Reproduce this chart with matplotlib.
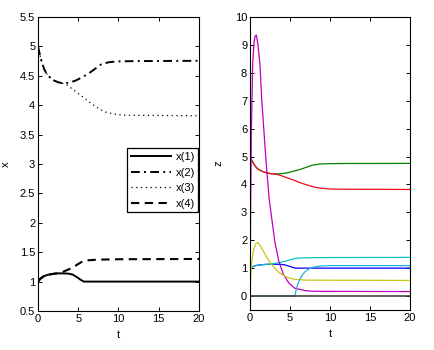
import matplotlib
matplotlib.use("Agg")
import matplotlib.pyplot as plt
from matplotlib.lines import Line2D
from matplotlib.ticker import FormatStrFormatter

plt.rcParams['font.family'] = ['Liberation Sans', 'DejaVu Sans']

# ---- data ----
t_x1 = [0, 0.3, 0.7, 1.2, 1.8, 2.5, 3.2, 3.8, 4.3, 4.9, 5.3, 5.7, 8, 20]
x1 = [1.0, 1.05, 1.09, 1.115, 1.13, 1.14, 1.14, 1.135, 1.12, 1.07, 1.03, 1.0, 1.0, 1.0]

t_x2 = [0, 0.25, 0.5, 0.75, 1.0, 1.5, 2.0, 2.5, 3.0, 3.5, 4.0, 4.5, 5.0, 5.5, 6.2, 6.7,
        7.2, 7.8, 8.75, 9.9, 12, 20]
x2 = [5.0, 4.85, 4.72, 4.62, 4.55, 4.47, 4.42, 4.39, 4.375, 4.375, 4.39, 4.41, 4.44, 4.48,
      4.53, 4.58, 4.63, 4.69, 4.73, 4.745, 4.75, 4.755]

t_x3 = [0, 0.25, 0.5, 0.75, 1.0, 1.5, 2.0, 2.5, 3.0, 3.4, 3.75, 4.5, 5.0, 5.5, 6.2, 6.7,
        7.5, 8.25, 8.75, 9.9, 10.8, 20]
x3 = [5.0, 4.85, 4.72, 4.62, 4.55, 4.47, 4.42, 4.39, 4.375, 4.36, 4.33, 4.25, 4.2, 4.15,
      4.07, 4.02, 3.95, 3.89, 3.87, 3.84, 3.83, 3.82]

t_x4 = [0, 0.3, 0.7, 1.2, 1.8, 2.5, 3.0, 3.5, 4.0, 4.5, 5.0, 5.5, 6.0, 7.0, 8.0, 10, 20]
x4 = [1.0, 1.05, 1.09, 1.115, 1.13, 1.145, 1.16, 1.19, 1.22, 1.255, 1.30, 1.34, 1.36,
      1.37, 1.375, 1.38, 1.385]

t_z5 = [0, 0.08, 0.17, 0.33, 0.5, 0.65, 0.8, 1.0, 1.25, 1.46, 1.75, 2.0, 2.4, 3.1, 3.6, 4.2,
        4.9, 5.6, 7.0, 8.0, 20]
z5 = [0, 3.2, 5.9, 8.3, 9.1, 9.32, 9.35, 9.0, 8.28, 7.08, 5.87, 4.85, 3.47, 1.96, 1.25, 0.76,
      0.45, 0.28, 0.19, 0.17, 0.16]

t_z6 = [0, 0.1, 0.2, 0.4, 0.7, 0.96, 1.3, 1.9, 2.5, 3.1, 3.7, 4.4, 5.0, 5.6, 7.0, 20]
z6 = [0, 0.7, 1.15, 1.6, 1.87, 1.92, 1.8, 1.48, 1.2, 1.0, 0.83, 0.70, 0.64, 0.60, 0.57, 0.56]

t_z7 = [0, 20]
z7 = [0, 0]

t_z8 = [0, 5.6, 5.8, 6.0, 6.25, 6.5, 6.9, 7.5, 8.1, 9.0, 10, 20]
z8 = [0, 0, 0.25, 0.45, 0.6, 0.74, 0.88, 0.99, 1.05, 1.08, 1.09, 1.09]

legend_labels = ['x(1)', 'x(2)', 'x(3)', 'x(4)']
x_ticks = [0, 5, 10, 15, 20]
left_yticks = [0.5, 1, 1.5, 2, 2.5, 3, 3.5, 4, 4.5, 5, 5.5]
right_yticks = [0, 1, 2, 3, 4, 5, 6, 7, 8, 9, 10]

# ---- figure ----
fig = plt.figure(figsize=(4.35, 3.5), dpi=100)
W, H = 435, 350
axL = fig.add_axes([38 / W, (H - 311) / H, (199 - 38) / W, (311 - 17) / H])
axR = fig.add_axes([250 / W, (H - 310) / H, (410 - 250) / W, (310 - 17) / H])

fs = 8
for ax in (axL, axR):
    ax.tick_params(direction='in', length=3, width=0.7, top=True, right=True,
                   labelsize=fs, pad=2, colors='black')
    for s in ax.spines.values():
        s.set_linewidth(0.8)
    ax.set_xlim(0, 20)
    ax.set_xticks(x_ticks)
    ax.set_xlabel('t', fontsize=fs)
    ax.xaxis.set_label_coords(0.5, -0.065)

# left panel
style_solid = dict(color='black', lw=1.4, linestyle='-')
style_dashdot = dict(color='black', lw=1.4, linestyle=(0, (4.5, 2.2, 1.0, 2.2)))
style_dot = dict(color='black', lw=0.9, linestyle=(0, (1, 2.8)))
style_dash = dict(color='black', lw=1.5, linestyle=(0, (4, 2.6)))

axL.plot(t_x1, x1, **style_solid)
axL.plot(t_x2, x2, **style_dashdot)
axL.plot(t_x3, x3, **style_dot)
axL.plot(t_x4, x4, **style_dash)
axL.set_ylim(0.5, 5.5)
axL.set_yticks(left_yticks)
axL.yaxis.set_major_formatter(FormatStrFormatter('%g'))
axL.set_ylabel('x', fontsize=fs)
axL.yaxis.set_label_coords(-0.17, 0.5)

handles = [Line2D([], [], **style_solid), Line2D([], [], **style_dashdot),
           Line2D([], [], **style_dot), Line2D([], [], **style_dash)]
leg = axL.legend(handles, legend_labels, loc='upper right', bbox_to_anchor=(0.996, 0.553),
                 fontsize=fs, frameon=True, fancybox=False, framealpha=1,
                 edgecolor='black', handlelength=3.6, handletextpad=0.4,
                 borderpad=0.32, labelspacing=0.5, borderaxespad=0)
leg.get_frame().set_linewidth(0.9)

# right panel
lw = 0.9
axR.plot(t_x1, x1, color=(0, 0, 1), lw=lw)
axR.plot(t_x2, x2, color=(0, 0.5, 0), lw=lw)
axR.plot(t_x3, x3, color=(0.95, 0.05, 0.1), lw=lw)
axR.plot(t_x4, x4, color=(0.05, 0.75, 0.78), lw=lw)
axR.plot(t_z5, z5, color=(0.75, 0, 0.75), lw=lw)
axR.plot(t_z6, z6, color=(0.78, 0.78, 0.1), lw=lw)
axR.plot(t_z8, z8, color=(0.15, 0.7, 0.85), lw=lw)
axR.plot(t_z7, z7, color=(0.22, 0.2, 0.18), lw=1.1)
axR.set_ylim(-0.5, 10)
axR.set_yticks(right_yticks)
axR.set_ylabel('z', fontsize=fs)
axR.yaxis.set_label_coords(-0.165, 0.5)

fig.savefig('out.png', dpi=100)
